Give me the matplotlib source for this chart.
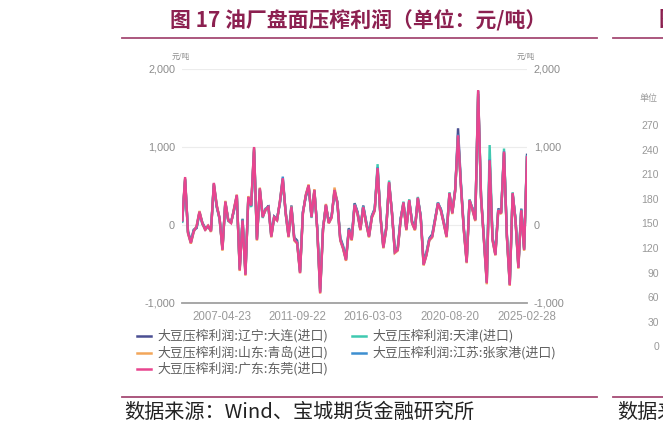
import matplotlib as mpl
import numpy as np
import pandas as pd
from matplotlib import pyplot as plt
from matplotlib.lines import Line2D
from matplotlib.ticker import FuncFormatter

plt.rcParams['font.family'] = ['Noto Sans CJK SC', 'DejaVu Sans']

W, H = 663, 432

# 大豆压榨利润 (元/吨), one value per point
gd = [60, 615, -100, -230, -80, -20, 170, 20, -60, -10,
      -80, 540, 250, 80, -320, 300, 60, 25, 200, 385,
      -580, 60, -640, 360, 250, 1000, -190, 470, 100, 200,
      230, -150, 100, 60, 300, 600, 150, -150, 230, -190,
      -230, -615, 150, 380, 510, 100, 450, -60, -870, -60,
      260, 25, 100, 450, 280, -190, -300, -450, -60, -190,
      260, 150, -60, 230, 25, -150, 100, 190, 730, 100,
      -290, -50, 550, 150, -350, -320, 60, 290, -60, 320,
      25, -60, 350, 100, -510, -385, -190, -150, 60, 280,
      190, 25, -150, 410, 150, 450, 1150, 500, -60, -480,
      320, 200, 60, 1730, 360, -190, -745, 830, -190, -385,
      190, 150, 940, -150, -770, 410, 60, -550, 190, -320,
      870]
ln = [50, 580, -80, -210, -60, -40, 150, 30, -40, -20,
      -60, 500, 230, 90, -290, 280, 70, 40, 180, 360,
      -540, 80, -600, 340, 240, 940, -160, 440, 120, 190,
      250, -120, 110, 80, 280, 560, 170, -120, 250, -160,
      -200, -580, 170, 360, 480, 120, 430, -40, -820, -40,
      240, 40, 120, 420, 300, -160, -270, -420, -40, -160,
      280, 170, -40, 250, 50, -120, 120, 210, 700, 120,
      -260, -30, 520, 170, -320, -290, 80, 270, -40, 300,
      50, -40, 330, 120, -470, -350, -170, -120, 80, 260,
      210, 50, -120, 390, 170, 430, 1240, 540, -30, -440,
      300, 220, 80, 1680, 380, -160, -700, 800, -160, -350,
      210, 170, 920, -120, -730, 390, 80, -510, 210, -290,
      900]
tj = [40, 560, -90, -220, -70, -30, 160, 10, -50, -30,
      -70, 520, 240, 70, -300, 290, 50, 30, 190, 370,
      -560, 70, -620, 350, 230, 960, -180, 450, 90, 210,
      220, -140, 90, 70, 290, 580, 140, -140, 220, -180,
      -220, -600, 160, 370, 500, 90, 440, -50, -850, -50,
      250, 30, 110, 440, 270, -180, -290, -440, -50, -180,
      270, 160, -50, 240, 30, -140, 110, 200, 780, 90,
      -280, -40, 570, 140, -340, -310, 70, 300, -50, 330,
      30, -50, 360, 110, -500, -370, -180, -140, 70, 290,
      200, 30, -140, 420, 160, 460, 1100, 520, -50, -470,
      330, 210, 70, 1650, 350, -180, -730, 1025, -170, -370,
      200, 160, 980, -140, -750, 420, 70, -530, 200, -310,
      880]
sd = [70, 600, -110, -240, -90, -10, 180, 30, -70, 0,
      -90, 530, 260, 90, -330, 310, 70, 20, 210, 390,
      -590, 50, -650, 370, 260, 990, -200, 480, 110, 190,
      240, -160, 110, 50, 310, 590, 160, -160, 240, -200,
      -240, -620, 140, 390, 520, 110, 460, -70, -880, -70,
      270, 20, 90, 480, 290, -200, -310, -460, -70, -200,
      250, 140, -70, 220, 20, -160, 90, 180, 720, 110,
      -300, -60, 540, 160, -360, -330, 50, 280, -70, 310,
      20, -70, 340, 90, -520, -390, -200, -160, 50, 270,
      180, 20, -160, 400, 140, 440, 1130, 490, -70, -490,
      310, 190, 50, 1710, 340, -200, -760, 820, -200, -390,
      180, 140, 930, -160, -780, 400, 50, -560, 180, -330,
      860]
js = [55, 590, -95, -225, -75, -25, 165, 25, -55, -15,
      -75, 530, 245, 85, -310, 295, 65, 35, 195, 380,
      -570, 65, -630, 355, 245, 980, -185, 465, 105, 205,
      235, -145, 105, 65, 295, 620, 155, -145, 235, -185,
      -225, -605, 155, 375, 505, 105, 445, -55, -860, -55,
      255, 30, 105, 445, 285, -185, -295, -445, -55, -185,
      265, 155, -55, 235, 30, -145, 105, 195, 740, 105,
      -285, -45, 545, 155, -345, -315, 65, 285, -55, 315,
      30, -55, 345, 105, -505, -380, -185, -145, 65, 285,
      195, 30, -145, 405, 155, 455, 1160, 510, -55, -475,
      315, 205, 65, 1720, 355, -185, -740, 840, -185, -380,
      195, 155, 945, -145, -765, 405, 65, -545, 195, -315,
      875]

dates = pd.date_range('2004-12-24', '2025-02-28', periods=len(gd))
tick_dates = ['2007-04-23', '2011-09-22', '2016-03-03', '2020-08-20', '2025-02-28']
names = ['大豆压榨利润:辽宁:大连(进口)', '大豆压榨利润:天津(进口)',
         '大豆压榨利润:山东:青岛(进口)', '大豆压榨利润:江苏:张家港(进口)',
         '大豆压榨利润:广东:东莞(进口)']
colors = ['#4a4f92', '#3fc9b0', '#f2a65a', '#3d8fd0', '#e8458f']
right_ticks = [270, 240, 210, 180, 150, 120, 90, 60, 30, 0]

title_color = '#8c2050'
rule_color = '#a54a74'
gray = '#8c8c8c'


def fx(px):
    return px / W


def fy(py):
    return 1 - py / H


fig = plt.figure(figsize=(W / 100, H / 100), dpi=100)

# page decoration
fig.text(fx(358), fy(20), '图 17 油厂盘面压榨利润（单位：元/吨）', ha='center', va='center',
         fontsize=15, color=title_color, fontweight='bold')
fig.text(fx(658), fy(20), '图', ha='left', va='center', fontsize=15,
         color=title_color, fontweight='bold')
for y in (38, 397):
    fig.add_artist(Line2D([fx(122), fx(597)], [fy(y), fy(y)], color=rule_color, lw=1.3))
    fig.add_artist(Line2D([fx(613), fx(663)], [fy(y), fy(y)], color=rule_color, lw=1.3))
fig.text(fx(124), fy(412), '数据来源：Wind、宝城期货金融研究所', ha='left', va='center',
         fontsize=14.5, color='#222222')
fig.text(fx(617), fy(412), '数据来', ha='left', va='center',
         fontsize=14.5, color='#222222')

# neighbouring chart, only its axis labels are visible
fig.text(fx(648), fy(98), '单位', ha='center', va='center', fontsize=6.5, color='#999999')
for k, v in enumerate(right_ticks):
    fig.text(fx(659), fy(126 + k * 24.6), str(v), ha='right', va='center',
             fontsize=7.5, color='#999999', family='Liberation Sans')

# main chart
ax = fig.add_axes([fx(182), fy(303), fx(527) - fx(182), fy(69) - fy(303)])
series = [ln, tj, sd, js, gd]
for vals, name, c in zip(series, names, colors):
    ax.plot(dates, vals, color=c, lw=1.7, label=name, solid_joinstyle='miter')

ax.set_xlim(pd.Timestamp('2004-12-19'), pd.Timestamp('2025-02-28'))
ax.set_ylim(-1000, 2000)
ax.set_yticks([-1000, 0, 1000, 2000])
ax.yaxis.set_major_formatter(FuncFormatter(lambda v, p: f'{int(v):,}'))
ax.set_xticks(pd.to_datetime(tick_dates))
ax.set_xticklabels(tick_dates)
ax.grid(axis='y', color='#ececec', lw=0.8)
ax.set_axisbelow(True)
for s in ('top', 'left', 'right'):
    ax.spines[s].set_visible(False)
ax.spines['bottom'].set_color('#a0a0a0')
ax.spines['bottom'].set_linewidth(1.3)
ax.tick_params(axis='y', length=0, pad=5, labelsize=7.8, labelcolor=gray,
               labelright=True)
ax.tick_params(axis='x', length=0, pad=6, labelsize=8.3, labelcolor='#9a9a9a')
for lab in ax.get_xticklabels() + ax.yaxis.get_ticklabels() + ax.yaxis.get_ticklabels(which='major'):
    lab.set_family('Liberation Sans')
for t in ax.yaxis.get_major_ticks():
    t.label2.set_family('Liberation Sans')
ax.text(-0.03, 1.05, '元/吨', transform=ax.transAxes, ha='left', va='center',
        fontsize=5.5, color=gray)
ax.text(0.97, 1.05, '元/吨', transform=ax.transAxes, ha='left', va='center',
        fontsize=5.5, color=gray)

# legend, two columns filled row by row
legend_pos = [(137, 336), (352, 336), (137, 353), (352, 353), (137, 369)]
for (x, y), name, c in zip(legend_pos, names, colors):
    fig.add_artist(Line2D([fx(x), fx(x + 14)], [fy(y), fy(y)], color=c, lw=1.8))
    fig.text(fx(x + 20), fy(y), name, ha='left', va='center', fontsize=9.3, color='#606060')

fig.savefig('out.png', dpi=100)
